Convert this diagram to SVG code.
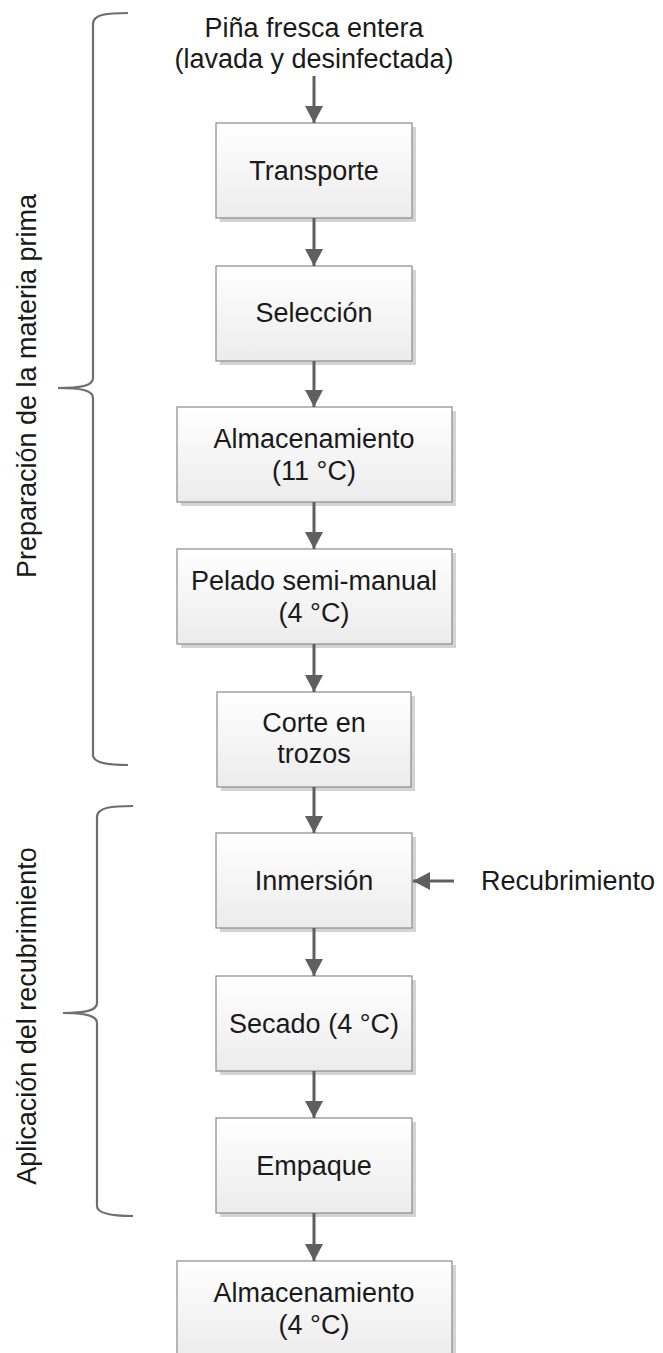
<svg xmlns="http://www.w3.org/2000/svg" width="663" height="1353" viewBox="0 0 663 1353">
<defs>
<linearGradient id="g" x1="0" y1="0" x2="0" y2="1"><stop offset="0" stop-color="#ffffff"/><stop offset="1" stop-color="#ececec"/></linearGradient>
<marker id="ah" markerWidth="18" markerHeight="18" refX="17" refY="9" orient="auto" markerUnits="userSpaceOnUse" viewBox="0 0 18 18"><path d="M0,0 L17,9 L0,18 Z" fill="#5f5f5f"/></marker>
</defs>
<style>
.box{fill:url(#g);stroke:#8a8a8a;stroke-width:1.2}
.sh{fill:#d4d4d4}
.t{font-family:"Liberation Sans",Arial,sans-serif;font-size:27px;fill:#1a1a1a;text-anchor:middle}
.c{stroke:#5f5f5f;stroke-width:3;fill:none}
.br{stroke:#6e6e6e;stroke-width:2.2;fill:none}
</style>
<rect width="663" height="1353" fill="#fff"/>
<g id="input"><text class="t" x="314" y="37">Piña fresca entera</text><text class="t" x="314" y="68">(lavada y desinfectada)</text></g>
<g id="n1"><rect class="sh" x="220" y="127" width="196" height="95"/><rect class="box" x="216" y="123" width="196" height="95"/><text class="t" x="314" y="180">Transporte</text></g>
<g id="n2"><rect class="sh" x="220" y="270" width="196" height="95"/><rect class="box" x="216" y="266" width="196" height="95"/><text class="t" x="314" y="322">Selección</text></g>
<g id="n3"><rect class="sh" x="181" y="411" width="275" height="95"/><rect class="box" x="177" y="407" width="275" height="95"/><text class="t" x="314" y="448">Almacenamiento</text><text class="t" x="314" y="480">(11 °C)</text></g>
<g id="n4"><rect class="sh" x="181" y="553" width="275" height="95"/><rect class="box" x="177" y="549" width="275" height="95"/><text class="t" x="314" y="590">Pelado semi-manual</text><text class="t" x="314" y="622">(4 °C)</text></g>
<g id="n5"><rect class="sh" x="221" y="696" width="194" height="95"/><rect class="box" x="217" y="692" width="194" height="95"/><text class="t" x="314" y="732">Corte en</text><text class="t" x="314" y="763">trozos</text></g>
<g id="n6"><rect class="sh" x="220" y="837" width="196" height="95"/><rect class="box" x="216" y="833" width="196" height="95"/><text class="t" x="314" y="890">Inmersión</text></g>
<g id="n7"><rect class="sh" x="220" y="980" width="196" height="95"/><rect class="box" x="216" y="976" width="196" height="95"/><text class="t" x="314" y="1033">Secado (4 °C)</text></g>
<g id="n8"><rect class="sh" x="220" y="1122" width="196" height="95"/><rect class="box" x="216" y="1118" width="196" height="95"/><text class="t" x="314" y="1175">Empaque</text></g>
<g id="n9"><rect class="sh" x="181" y="1265" width="275" height="95"/><rect class="box" x="177" y="1261" width="275" height="95"/><text class="t" x="314" y="1302">Almacenamiento</text><text class="t" x="314" y="1334">(4 °C)</text></g>
<g id="recub"><text class="t" x="568" y="890">Recubrimiento</text></g>
<g id="connectors">
<line class="c" x1="314" y1="76" x2="314" y2="123" marker-end="url(#ah)"/>
<line class="c" x1="314" y1="218" x2="314" y2="266" marker-end="url(#ah)"/>
<line class="c" x1="314" y1="361" x2="314" y2="407" marker-end="url(#ah)"/>
<line class="c" x1="314" y1="502" x2="314" y2="549" marker-end="url(#ah)"/>
<line class="c" x1="314" y1="644" x2="314" y2="692" marker-end="url(#ah)"/>
<line class="c" x1="314" y1="787" x2="314" y2="833" marker-end="url(#ah)"/>
<line class="c" x1="314" y1="928" x2="314" y2="976" marker-end="url(#ah)"/>
<line class="c" x1="314" y1="1071" x2="314" y2="1118" marker-end="url(#ah)"/>
<line class="c" x1="314" y1="1213" x2="314" y2="1261" marker-end="url(#ah)"/>
<line class="c" x1="454" y1="881" x2="413" y2="881" marker-end="url(#ah)"/>
</g>
<g id="brace1">
<path class="br" d="M128,13 C108,13 93,14 93,24 L93,378 C93,386 80,388 58,388 C80,388 93,390 93,398 L93,755 C93,763 108,765 128,765"/>
<text class="t" transform="translate(36,386) rotate(-90)">Preparación de la materia prima</text>
</g>
<g id="brace2">
<path class="br" d="M133,806 C113,806 97,807 97,817 L97,1003 C97,1011 84,1013 63,1013 C84,1013 97,1015 97,1023 L97,1206 C97,1214 113,1216 133,1216"/>
<text class="t" transform="translate(36,1016) rotate(-90)">Aplicación del recubrimiento</text>
</g>
</svg>
